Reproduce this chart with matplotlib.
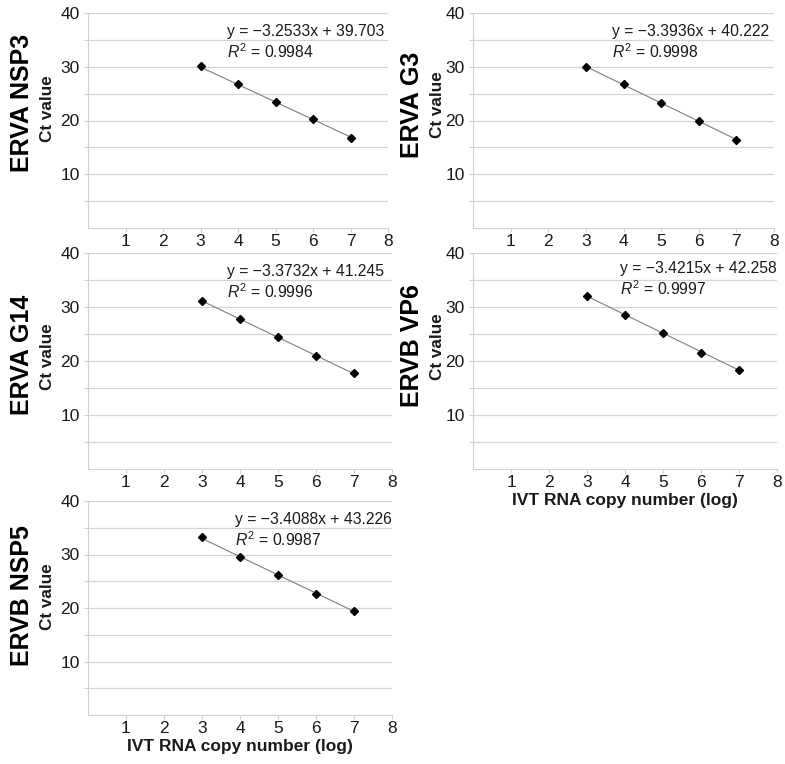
import matplotlib
matplotlib.use("Agg")
import matplotlib.pyplot as plt
import numpy as np

plt.rcParams['font.family'] = ['Liberation Sans', 'DejaVu Sans']
plt.rcParams['mathtext.fontset'] = 'custom'
plt.rcParams['mathtext.rm'] = 'Liberation Sans'
plt.rcParams['mathtext.it'] = 'Liberation Sans:italic'

# ---- data ----
titles = ["ERVA NSP3", "ERVA G3", "ERVA G14", "ERVB VP6", "ERVB NSP5"]
log_copies = [3, 4, 5, 6, 7]
ct_nsp3 = [30.2, 26.7, 23.5, 20.2, 16.8]
ct_g3 = [29.9, 26.7, 23.3, 19.9, 16.4]
ct_g14 = [31.2, 27.7, 24.4, 21.0, 17.7]
ct_vp6 = [32.0, 28.6, 25.1, 21.5, 18.3]
ct_nsp5 = [33.2, 29.6, 26.1, 22.7, 19.5]
slopes = [-3.2533, -3.3936, -3.3732, -3.4215, -3.4088]
intercepts = [39.703, 40.222, 41.245, 42.258, 43.226]
r2_values = ["0.9984", "0.9998", "0.9996", "0.9997", "0.9987"]
x_ticks = [1, 2, 3, 4, 5, 6, 7, 8]
y_ticks = [10, 20, 30, 40]
y_label = "Ct value"
x_label = "IVT RNA copy number (log)"

series = [ct_nsp3, ct_g3, ct_g14, ct_vp6, ct_nsp5]

W, H = 785, 764
fig = plt.figure(figsize=(W / 100, H / 100), dpi=100)

# layout in pixels: left, right, top, bottom
boxes = [(88, 388, 13, 228),
         (473, 774, 13, 228),
         (88, 392, 253, 469),
         (473, 777, 253, 469),
         (88, 392, 501, 715)]
title_pos = [(22, 103), (412, 105), (22, 355), (412, 346), (22, 596)]
ct_pos = [(48, 109), (438, 105), (48, 357), (438, 347), (48, 597)]
eq_pos = [(3.70, 36.5), (3.69, 36.5), (3.66, 36.5), (3.86, 37.1), (3.87, 36.5)]
show_xlabel = [False, False, False, True, True]

grid_c = "#d4d4d4"
for i in range(5):
    l, r, t, b = boxes[i]
    ax = fig.add_axes([l / W, 1 - b / H, (r - l) / W, (b - t) / H])
    ax.set_xlim(0, 8)
    ax.set_ylim(0, 40)
    ax.set_yticks(np.arange(5, 41, 5), minor=False)
    ax.set_yticklabels(["" if v not in y_ticks else str(int(v)) for v in np.arange(5, 41, 5)])
    ax.set_xticks(x_ticks)
    ax.set_xticklabels([str(v) for v in x_ticks])
    ax.grid(axis='y', color=grid_c, lw=0.9)
    ax.set_axisbelow(True)
    for s in ['top', 'right']:
        ax.spines[s].set_visible(False)
    for s in ['left', 'bottom']:
        ax.spines[s].set_color("#d0d0d0")
        ax.spines[s].set_linewidth(0.8)
    ax.tick_params(axis='both', colors="#d0d0d0", labelcolor="#1a1a1a",
                   labelsize=12.5, length=3, width=0.8, direction='out', pad=3)
    ax.tick_params(axis='x', pad=1.5)

    x = np.array(log_copies, dtype=float)
    xf = np.array([x.min(), x.max()])
    ax.plot(xf, slopes[i] * xf + intercepts[i], color="#7f7f7f", lw=0.8, zorder=2)
    ax.plot(x, series[i], linestyle='none', marker='D', color='black',
            markersize=3.6, zorder=3)

    ex, ey = eq_pos[i]
    ax.text(ex, ey, "y = \u2212%.4fx + %.3f" % (-slopes[i], intercepts[i]),
            fontsize=11.3, va='center', ha='left', color='#1a1a1a')
    ax.text(ex, ey - 3.7, "$R^2$ = " + r2_values[i],
            fontsize=11.3, va='center', ha='left', color='#1a1a1a')

    tx, ty = title_pos[i]
    fig.text(tx / W, 1 - ty / H, titles[i], rotation=90, fontsize=18,
             fontweight='bold', ha='center', va='center', color='black')
    cx, cy = ct_pos[i]
    fig.text(cx / W, 1 - cy / H, y_label, rotation=90, fontsize=12.3,
             fontweight='bold', ha='center', va='center', color='#1a1a1a')
    if show_xlabel[i]:
        ax.set_xlabel(x_label, fontsize=12.5, fontweight='bold',
                      color='#1a1a1a', labelpad=2)

fig.savefig("out.png", dpi=100)
